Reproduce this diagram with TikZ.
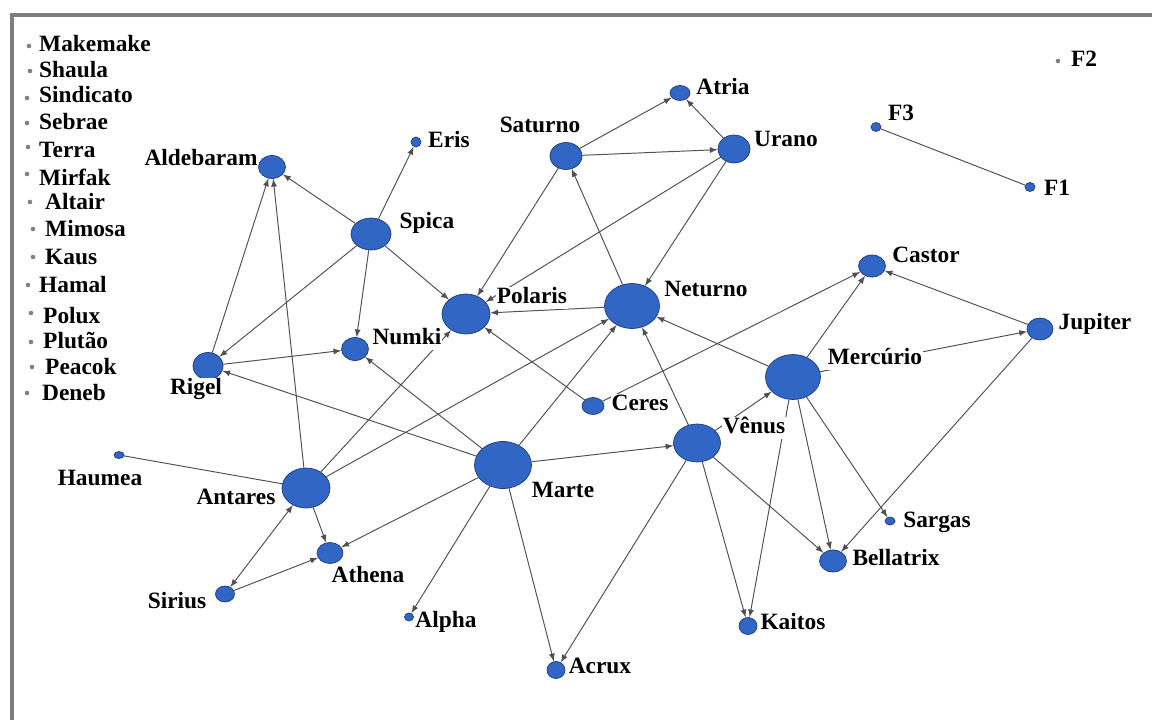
\documentclass[tikz,border=0pt]{standalone}
\usepackage{fontspec}
\setmainfont{Liberation Serif}
\usetikzlibrary{shapes.geometric}

\definecolor{astrofill}{RGB}{50,102,196}
\definecolor{astroline}{RGB}{30,58,118}
\definecolor{edgegray}{RGB}{80,80,80}
\definecolor{framegray}{RGB}{125,125,125}

\tikzset{
  astro/.style={ellipse, draw=astroline, fill=astrofill, inner sep=0pt, line width=0.4pt},
  px/.style 2 args={minimum width=#1*0.02cm, minimum height=#2*0.02cm},
  lone/.style={circle, fill=gray, inner sep=0pt, minimum size=2.6pt},
  lab/.style={fill=white, inner sep=0.5pt, text height=9pt, text depth=2.5pt,
    font=\fontsize{13.3}{15}\selectfont\bfseries},
  ligacao/.style={draw=edgegray, line width=0.55pt, ->, >=latex}
}

\begin{document}
\begin{tikzpicture}[x=0.02cm,y=-0.02cm]
  \useasboundingbox (0,0) rectangle (1152,720);
  \draw[framegray, line width=1.8pt] (12,720) -- (12,15) -- (1152,15);

  % vertices da rede
  \node[astro, px={27}{23}] (Aldebaram) at (272,167) {};
  \node[astro, px={10}{10}] (Eris) at (416,142) {};
  \node[astro, px={40}{32}] (Spica) at (371,234) {};
  \node[astro, px={48}{40}] (Polaris) at (466,314) {};
  \node[astro, px={27}{23}] (Numki) at (355,349) {};
  \node[astro, px={30}{27}] (Rigel) at (208,366) {};
  \node[astro, px={32}{27}] (Saturno) at (566,156) {};
  \node[astro, px={20}{15}] (Atria) at (680,93) {};
  \node[astro, px={32}{28}] (Urano) at (734,149) {};
  \node[astro, px={55}{45}] (Neturno) at (632,306) {};
  \node[astro, px={27}{22}] (Castor) at (872,266) {};
  \node[astro, px={26}{22}] (Jupiter) at (1040,329) {};
  \node[astro, px={55}{45}] (Mercurio) at (793,377) {};
  \node[astro, px={22}{17}] (Ceres) at (593,406) {};
  \node[astro, px={47}{38}] (Venus) at (697,443) {};
  \node[astro, px={57}{47}] (Marte) at (503,465) {};
  \node[astro, px={48}{40}] (Antares) at (306,488) {};
  \node[astro, px={10}{7}] (Haumea) at (119,455) {};
  \node[astro, px={26}{21}] (Athena) at (330,553) {};
  \node[astro, px={19}{16}] (Sirius) at (225,594) {};
  \node[astro, px={9}{8}] (Alpha) at (409,617) {};
  \node[astro, px={18}{17}] (Acrux) at (556,670) {};
  \node[astro, px={18}{17}] (Kaitos) at (748,626) {};
  \node[astro, px={27}{22}] (Bellatrix) at (833,561) {};
  \node[astro, px={10}{8}] (Sargas) at (890,521) {};
  \node[astro, px={10}{9}] (F3) at (876,127) {};
  \node[astro, px={10}{9}] (F1) at (1030,187) {};
  \node[lone] (F2) at (1058,61) {};

  % ligacoes
  \foreach \a/\b in {Rigel/Aldebaram, Antares/Aldebaram, Spica/Aldebaram,
      Spica/Eris, Spica/Numki, Spica/Rigel, Spica/Polaris, Rigel/Numki,
      Marte/Rigel, Marte/Numki, Saturno/Polaris, Urano/Polaris,
      Neturno/Polaris, Ceres/Polaris, Antares/Polaris, Ceres/Castor,
      Neturno/Saturno, Saturno/Atria, Urano/Atria, Saturno/Urano,
      Urano/Neturno, Antares/Neturno, Marte/Neturno, Venus/Neturno,
      Mercurio/Neturno, Antares/Athena, Sirius/Athena, Marte/Athena,
      Marte/Alpha, Marte/Acrux, Venus/Acrux, Marte/Venus, Venus/Mercurio,
      Venus/Kaitos, Mercurio/Kaitos, Venus/Bellatrix, Mercurio/Bellatrix,
      Mercurio/Sargas, Jupiter/Bellatrix, Mercurio/Jupiter,
      Mercurio/Castor, Jupiter/Castor}
    \draw[ligacao] (\a) -- (\b);
  \draw[ligacao, <->] (Antares) -- (Sirius);
  \draw[edgegray, line width=0.55pt] (Haumea) -- (Antares);
  \draw[edgegray, line width=0.55pt] (F3) -- (F1);

  % rotulos
  \node[lab] (tAldebaram) at (201,160) {Aldebaram};
  \node[lab] (tEris) at (449,142) {Eris};
  \node[lab] (tSpica) at (427,223) {Spica};
  \node[lab] (tPolaris) at (532,298) {Polaris};
  \node[lab] (tNumki) at (407,339) {Numki};
  \node[lab] (tRigel) at (196,389) {Rigel};
  \node[lab] (tSaturno) at (540,127) {Saturno};
  \node[lab] (tAtria) at (723,89) {Atria};
  \node[lab] (tUrano) at (786,141) {Urano};
  \node[lab] (tNeturno) at (706,291) {Neturno};
  \node[lab] (tCastor) at (926,257) {Castor};
  \node[lab] (tJupiter) at (1095,324) {Jupiter};
  \node[lab] (tMercurio) at (875,359) {Mercúrio};
  \node[lab] (tCeres) at (640,405) {Ceres};
  \node[lab] (tVenus) at (754,428) {Vênus};
  \node[lab] (tMarte) at (563,492) {Marte};
  \node[lab] (tAntares) at (236,499) {Antares};
  \node[lab] (tHaumea) at (100,480) {Haumea};
  \node[lab] (tAthena) at (368,577) {Athena};
  \node[lab] (tSirius) at (177,603) {Sirius};
  \node[lab] (tAlpha) at (446,622) {Alpha};
  \node[lab] (tAcrux) at (600,668) {Acrux};
  \node[lab] (tKaitos) at (793,624) {Kaitos};
  \node[lab] (tBellatrix) at (896,560) {Bellatrix};
  \node[lab] (tSargas) at (937,522) {Sargas};
  \node[lab] (tF3) at (901,115) {F3};
  \node[lab] (tF1) at (1057,190) {F1};
  \node[lab] (tF2) at (1084,61) {F2};

  % vertices isolados
  \foreach \i/\nome/\xd/\yd/\xt/\yt in {1/Makemake/29/46/38/46,
      2/Shaula/30/71/38/72, 3/Sindicato/27/98/38/97, 4/Sebrae/27/123/38/124,
      5/Terra/28/147/38/152, 6/Mirfak/27/174/38/180, 7/Altair/30/202/44/204,
      8/Mimosa/33/229/44/231, 9/Kaus/33/257/44/259, 10/Hamal/28/285/38/287,
      11/Polux/31/313/42/318, 12/Plutão/31/342/42/343,
      13/Peacok/32/367/44/369, 14/Deneb/27/393/41/395}
  {
    \node[lone] (d\i) at (\xd,\yd) {};
    \node[lab, anchor=west] (n\i) at (\xt,\yt) {\nome};
  }
\end{tikzpicture}
\end{document}
